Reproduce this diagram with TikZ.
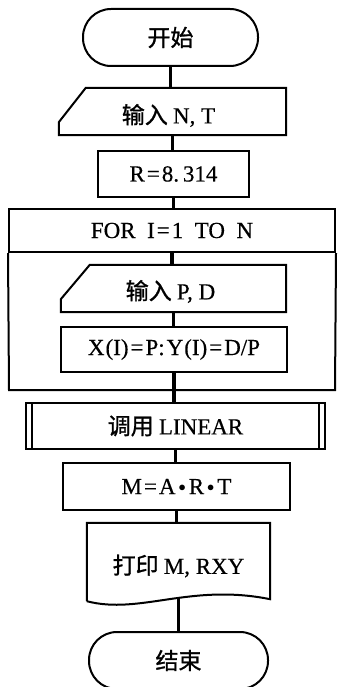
\documentclass[tikz,border=0pt]{standalone}
\usepackage{fontspec}
\setmainfont{Liberation Serif}[FakeBold=0.4]
\newfontfamily\cjk{Noto Sans CJK SC}[FakeBold=1.2]
\begin{document}
\begin{tikzpicture}[x=1pt,y=-1pt,
  every node/.style={font=\fontsize{23}{27}\selectfont, inner sep=0pt},
  outline/.style={line width=2pt, line join=miter},
  term/.style={draw, outline, rectangle, rounded corners=28pt, minimum height=57pt},
  procbox/.style={draw, outline, rectangle, minimum height=46pt},
  frame/.style={rectangle, minimum height=47pt},
  link/.style={line width=3.6pt}]
\useasboundingbox (0,0) rectangle (338,687);
\clip (0,0) rectangle (338,687);
\newcommand\dotop{\kern3pt\raisebox{2.5pt}{\fontsize{15}{15}\selectfont$\bullet$}\kern3pt}
\newcommand\eqop{\kern2pt=\kern2pt}

% start
\node[term, minimum width=175pt] (start) at (170.5,37.5) {\cjk 开始};

% manual input N, T
\node[frame, minimum width=227pt] (inNT) at (172.5,111.5) {};
\draw[outline] (inNT.north east) -- (inNT.south east) -- (inNT.south west)
  -- ++(0,-13) -- ([xshift=27pt]inNT.north west) -- cycle;
\node at ([xshift=-4pt,yshift=-4pt]inNT.center) {\cjk 输入\ \rmfamily N, T};

% constant
\node[procbox, minimum width=151pt] (R) at (173.5,174) {R\eqop 8.\,314};

% loop
\node[draw, outline, rectangle, minimum width=326pt, minimum height=43pt] (for) at (172,230.5)
  {FOR\ \ I\eqop 1\ \ TO\ \ N};
\draw[outline] (for.south west) -- (9,390) -- (335,390) -- (for.south east);

% manual input P, D
\node[frame, minimum width=225pt] (inPD) at (173.5,288.5) {};
\draw[outline] (inPD.north east) -- (inPD.south east) -- (inPD.south west)
  -- ++(0,-13) -- ([xshift=29pt]inPD.north west) -- cycle;
\node at ([xshift=-3pt,yshift=-3pt]inPD.center) {\cjk 输入\ \rmfamily P, D};

% assignment
\node[procbox, minimum width=226pt, minimum height=45pt] (X) at (174,349.5)
  {X\kern1pt(I)\eqop P:\kern2pt Y\kern1pt(I)\eqop D/P};

% predefined process
\node[procbox, minimum width=299pt] (call) at (175.5,426) {\cjk 调用\ \rmfamily LINEAR};
\draw[outline] ([xshift=7pt]call.north west) -- ([xshift=7pt]call.south west);
\draw[outline] ([xshift=-7pt]call.north east) -- ([xshift=-7pt]call.south east);

% result
\node[procbox, minimum width=227pt, minimum height=47pt] (M) at (176.5,486.5)
  {M\eqop A\dotop R\dotop T};

% document output
\node[rectangle, minimum width=183pt, minimum height=78pt] (print) at (178.5,562) {};
\draw[outline] (print.south west) -- (print.north west) -- (print.north east)
  -- ([yshift=2pt]print.south east) .. controls (190,583) and (140,615) .. (print.south west);
\node at ([yshift=-4pt]print.center) {\cjk 打印\ \rmfamily M, RXY};

% end
\node[term, minimum width=179pt] (stop) at (178.5,660.5) {\cjk 结束};

% connectors
\draw[link] (start.south) -- (start.south |- inNT.north);
\draw[link] (inNT.south) -- (inNT.south |- R.north);
\draw[link] (R.south) -- (R.south |- for.north);
\draw[link] (for.south) -- (for.south |- inPD.north);
\draw[link] (inPD.south) -- (inPD.south |- X.north);
\draw[link] (X.south) -- (X.south |- call.north);
\draw[link] (call.south) -- (call.south |- M.north);
\draw[link] (M.south) -- (M.south |- print.north);
\draw[link] ([yshift=4pt]print.south) -- (print.south |- stop.north);
\end{tikzpicture}
\end{document}
